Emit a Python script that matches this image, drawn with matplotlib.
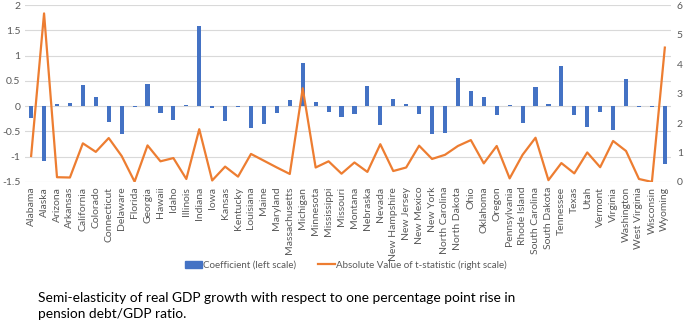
import numpy as np
import matplotlib
matplotlib.use("Agg")
import matplotlib.pyplot as plt
from matplotlib.patches import Patch
from matplotlib.lines import Line2D

plt.rcParams['font.family'] = ['Lato', 'DejaVu Sans']

states = ["Alabama", "Alaska", "Arizona", "Arkansas", "California", "Colorado",
          "Connecticut", "Delaware", "Florida", "Georgia", "Hawaii", "Idaho",
          "Illinois", "Indiana", "Iowa", "Kansas", "Kentucky", "Louisiana",
          "Maine", "Maryland", "Massachusetts", "Michigan", "Minnesota",
          "Mississippi", "Missouri", "Montana", "Nebraska", "Nevada",
          "New Hampshire", "New Jersey", "New Mexico", "New York",
          "North Carolina", "North Dakota", "Ohio", "Oklahoma", "Oregon",
          "Pennsylvania", "Rhode Island", "South Carolina", "South Dakota",
          "Tennessee", "Texas", "Utah", "Vermont", "Virginia", "Washington",
          "West Virginia", "Wisconsin", "Wyoming"]

# coefficient (left scale)
coef = [-0.23, -1.09, 0.04, 0.06, 0.41, 0.18, -0.31, -0.55, -0.01, 0.43,
        -0.14, -0.28, 0.03, 1.59, -0.04, -0.30, -0.02, -0.43, -0.36, -0.14,
        0.13, 0.85, 0.09, -0.12, -0.22, -0.16, 0.39, -0.375, 0.15, 0.04,
        -0.16, -0.55, -0.53, 0.56, 0.31, 0.18, -0.18, 0.03, -0.34, 0.375,
        0.05, 0.80, -0.18, -0.41, -0.12, -0.47, 0.53, -0.02, -0.01, -1.14]

# |t-statistic| (right scale)
tstat = [0.88, 5.72, 0.16, 0.15, 1.31, 1.02, 1.49, 0.88, 0.01, 1.24,
         0.70, 0.81, 0.10, 1.79, 0.05, 0.52, 0.18, 0.95, 0.72, 0.49,
         0.27, 3.18, 0.49, 0.70, 0.28, 0.66, 0.34, 1.28, 0.37, 0.49,
         1.23, 0.78, 0.92, 1.22, 1.42, 0.63, 1.22, 0.12, 0.92, 1.50,
         0.06, 0.64, 0.29, 1.00, 0.50, 1.39, 1.05, 0.10, 0.00, 4.56]

blue = "#4472C4"
orange = "#ED7D31"
gray = "#595959"

fig = plt.figure(figsize=(6.85, 3.22), dpi=100)
ax = fig.add_axes([0.036, 0.435, 0.944, 0.549])
x = np.arange(len(states))

ax.bar(x, coef, width=0.32, color=blue, zorder=3)
ax.set_ylim(-1.5, 2)
ax.set_yticks(np.arange(-1.5, 2.01, 0.5))
ax.set_yticklabels(["-1.5", "-1", "-0.5", "0", "0.5", "1", "1.5", "2"])
ax.set_xlim(-0.5, len(states) - 0.5)
ax.set_xticks(x)
ax.set_xticklabels(states, rotation=90)
ax.grid(axis='y', color="#d9d9d9", linewidth=0.8, zorder=0)
for s in ax.spines.values():
    s.set_visible(False)
ax.tick_params(axis='both', length=0, colors=gray, labelsize=7.5)
ax.tick_params(axis='y', pad=3)

ax2 = ax.twinx()
ax2.plot(x, tstat, color=orange, linewidth=1.6, zorder=4)
ax2.set_ylim(0, 6)
ax2.set_yticks(range(0, 7))
for s in ax2.spines.values():
    s.set_visible(False)
ax2.tick_params(axis='y', length=0, colors=gray, labelsize=7.5, pad=4)

handles = [Patch(color=blue), Line2D([], [], color=orange, linewidth=1.6)]
fig.legend(handles, ["Coefficient (left scale)",
                     "Absolute Value of t-statistic (right scale)"],
           loc='center', bbox_to_anchor=(0.505, 0.177), ncol=2, frameon=False,
           fontsize=7, labelcolor=gray, handlelength=1.8, handletextpad=0.1,
           columnspacing=2.2)

fig.text(0.055, 0.05, "Semi-elasticity of real GDP growth with respect to one "
         "percentage point rise in\npension debt/GDP ratio.",
         fontsize=9.9, color="black", ha='left', va='center', linespacing=1.45)

fig.savefig("out.png", dpi=100)
